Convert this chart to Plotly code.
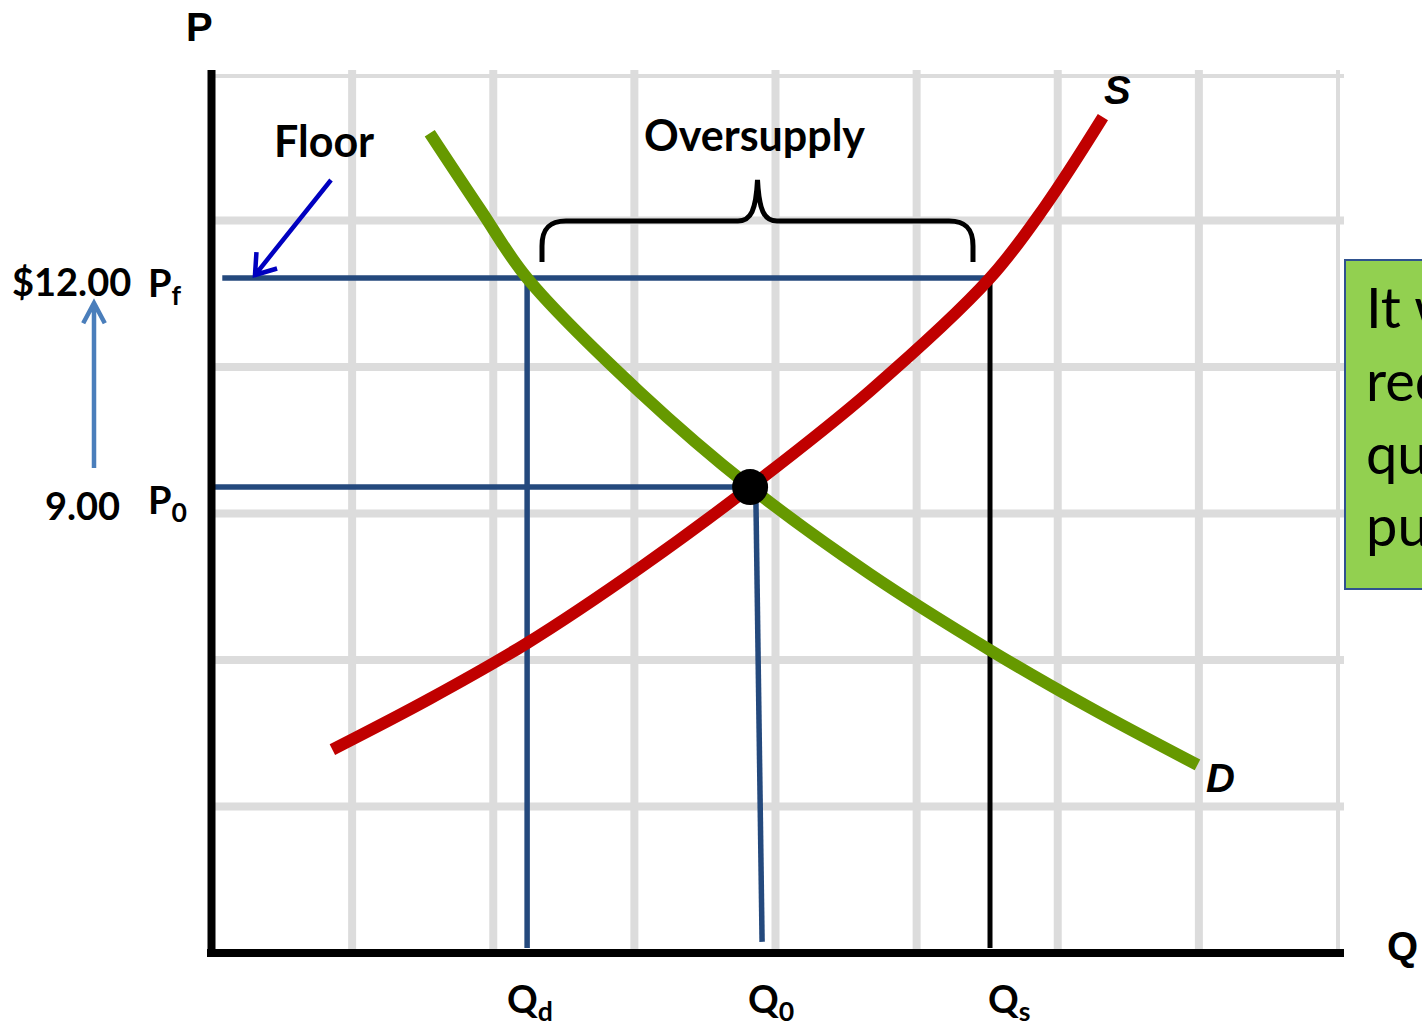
import math
import plotly.graph_objects as go

# Market values: price floor, equilibrium and the quantities at each
price_floor = 12.00
price_eq = 9.00
qty_demanded = 2.24
qty_eq = 3.82
qty_supplied = 5.52

price_labels = ["$12.00", "9.00"]
price_symbols = ["P<sub>f</sub>", "P<sub>0</sub>"]
qty_labels = ["Q<sub>d</sub>", "Q<sub>0</sub>", "Q<sub>s</sub>"]

# Demand curve (quantity, price)
demand_q = [1.55, 1.91, 2.24, 3.04, 3.82, 4.67, 5.52, 6.23, 6.99]
demand_p = [14.08, 12.98, 12.00, 10.36, 9.00, 7.75, 6.66, 5.83, 5.01]

# Supply curve (quantity, price)
supply_q = [0.86, 1.55, 2.24, 3.04, 3.82, 4.67, 5.52, 5.91, 6.32]
supply_p = [5.23, 5.96, 6.76, 7.84, 9.00, 10.38, 12.00, 13.03, 14.31]

note_lines = ["It will", "reduce", "quantity", "purchased"]

# ---- frame geometry -------------------------------------------------------
W, H = 1422, 1026
ML, MR, MT, MB = 211, 82, 74, 73
X_RANGE = [0, 8]
Y_RANGE = [2.31, 14.93]
PW, PH = W - ML - MR, H - MT - MB


def px(x):
    """Page pixel x -> paper coordinate."""
    return (x - ML) / PW


def py(y):
    """Page pixel y -> paper coordinate."""
    return (H - MB - y) / PH


def pt(x, y):
    return f"{px(x):.5f},{py(y):.5f}"


def arrow_path(x0, y0, x1, y1, head_len, head_deg):
    """Shaft from (x0,y0) to tip (x1,y1) plus an open chevron head (page pixels)."""
    dx, dy = x0 - x1, y0 - y1
    n = math.hypot(dx, dy)
    ux, uy = dx / n, dy / n
    barbs = []
    for s in (1, -1):
        a = math.radians(head_deg) * s
        bx = ux * math.cos(a) - uy * math.sin(a)
        by = ux * math.sin(a) + uy * math.cos(a)
        barbs.append((x1 + bx * head_len, y1 + by * head_len))
    return (f"M{pt(x0, y0)} L{pt(x1, y1)} "
            f"M{pt(*barbs[0])} L{pt(x1, y1)} L{pt(*barbs[1])}")


GRID = "#DCDCDC"
NAVY = "#24497D"
GREEN = "#669900"
RED = "#C00000"

shapes = []

# background grid
for k in range(1, 9):
    shapes.append(dict(type="line", xref="x", yref="paper", x0=k, x1=k,
                       y0=0, y1=py(70), layer="below",
                       line=dict(color=GRID, width=8)))
for k in range(1, 7):
    yv = Y_RANGE[0] + k * (Y_RANGE[1] - Y_RANGE[0]) / 6
    shapes.append(dict(type="line", xref="paper", yref="y", x0=0, x1=px(1344),
                       y0=yv, y1=yv, layer="below",
                       line=dict(color=GRID, width=8)))

# guide lines for the floor and equilibrium
y_floor_end = Y_RANGE[0] + 0.07
shapes += [
    dict(type="line", xref="x", yref="y", x0=0.08, x1=qty_supplied,
         y0=price_floor, y1=price_floor, layer="below", line=dict(color=NAVY, width=5.5)),
    dict(type="line", xref="x", yref="y", x0=0.015, x1=qty_eq,
         y0=price_eq, y1=price_eq, layer="below", line=dict(color=NAVY, width=5.5)),
    dict(type="line", xref="x", yref="y", x0=qty_demanded, x1=qty_demanded,
         y0=price_floor, y1=y_floor_end, layer="below", line=dict(color=NAVY, width=5.5)),
    dict(type="line", xref="x", yref="y", x0=qty_eq + 0.04, x1=qty_eq + 0.085,
         y0=price_eq, y1=Y_RANGE[0] + 0.16, layer="below", line=dict(color=NAVY, width=5.5)),
    dict(type="line", xref="x", yref="y", x0=qty_supplied, x1=qty_supplied,
         y0=price_floor, y1=y_floor_end, layer="below", line=dict(color="black", width=5)),
]

# axes
shapes += [
    dict(type="line", xref="paper", yref="paper", x0=px(211.5), x1=px(211.5),
         y0=py(957), y1=py(70), layer="above", line=dict(color="black", width=8)),
    dict(type="line", xref="paper", yref="paper", x0=px(207), x1=px(1344),
         y0=py(953), y1=py(953), layer="above", line=dict(color="black", width=8)),
]

# arrows
shapes += [
    dict(type="path", xref="paper", yref="paper", layer="above",
         path=arrow_path(331, 180, 255, 275, 23, 35),
         line=dict(color="#0000C0", width=4.5)),
    dict(type="path", xref="paper", yref="paper", layer="above",
         path=arrow_path(94, 468, 94, 303, 23, 28),
         line=dict(color="#4A7EBB", width=4.5)),
]

# curly brace over the surplus
brace = (f"M{pt(542, 262)} L{pt(542, 246)} C{pt(542, 229)} {pt(549, 221)} {pt(566, 221)} "
         f"L{pt(738, 221)} C{pt(751, 221)} {pt(756, 210)} {pt(757.5, 180)} "
         f"C{pt(759, 210)} {pt(764, 221)} {pt(777, 221)} "
         f"L{pt(949, 221)} C{pt(966, 221)} {pt(973, 229)} {pt(973, 246)} L{pt(973, 262)}")
shapes.append(dict(type="path", xref="paper", yref="paper", layer="above",
                   path=brace, line=dict(color="black", width=5)))

# note box on the right edge
shapes.append(dict(type="rect", xref="paper", yref="paper", layer="above",
                   x0=px(1345), x1=px(1460), y0=py(589), y1=py(260),
                   fillcolor="#92D050", line=dict(color="#2F528F", width=2)))

fig = go.Figure()
fig.add_trace(go.Scatter(x=demand_q, y=demand_p, mode="lines", hoverinfo="skip",
                         line=dict(color=GREEN, width=12, shape="spline", smoothing=1)))
fig.add_trace(go.Scatter(x=supply_q, y=supply_p, mode="lines", hoverinfo="skip",
                         line=dict(color=RED, width=12, shape="spline", smoothing=1)))
fig.add_trace(go.Scatter(x=[qty_eq], y=[price_eq], mode="markers", hoverinfo="skip",
                         marker=dict(color="black", size=36)))

LATO_B = dict(family="Lato", size=43, color="black", weight="bold")
ARIAL_B = dict(family="Liberation Sans, Arial", size=40, color="black", weight="bold")


def label(text, x, y, font, xanchor="center", yanchor="middle", **kw):
    return dict(text=text, xref="paper", yref="paper", x=px(x), y=py(y),
                xanchor=xanchor, yanchor=yanchor, showarrow=False, font=font, **kw)


annotations = [
    label("P", 199, 27, ARIAL_B),
    label("Q", 1402, 946, ARIAL_B),
    label("<i>S</i>", 1117, 90, ARIAL_B),
    label("<i>D</i>", 1220, 778, ARIAL_B),
    label("Floor", 324, 141, LATO_B),
    label("Oversupply", 754, 135, LATO_B),
    label(price_labels[0], 133, 281, dict(LATO_B, size=38), xanchor="right"),
    label(price_symbols[0], 146, 285, dict(LATO_B, size=38), xanchor="left"),
    label(price_labels[1], 122, 505, dict(LATO_B, size=38), xanchor="right"),
    label(price_symbols[1], 146, 502, dict(LATO_B, size=38), xanchor="left"),
    label(qty_labels[0], 530, 1001, dict(LATO_B, size=38)),
    label(qty_labels[1], 771, 1001, dict(LATO_B, size=38)),
    label(qty_labels[2], 1009, 1001, dict(LATO_B, size=38)),
    label("<br>".join(note_lines), 1364, 271, dict(family="Lato", size=56, color="black"),
          xanchor="left", yanchor="top", align="left"),
]

fig.update_layout(
    width=W, height=H, autosize=False,
    margin=dict(l=ML, r=MR, t=MT, b=MB, pad=0),
    paper_bgcolor="white", plot_bgcolor="white",
    showlegend=False,
    xaxis=dict(range=X_RANGE, visible=False, fixedrange=True),
    yaxis=dict(range=Y_RANGE, visible=False, fixedrange=True),
    shapes=shapes, annotations=annotations,
)

fig.write_html("out.html", config=dict(displayModeBar=False))
